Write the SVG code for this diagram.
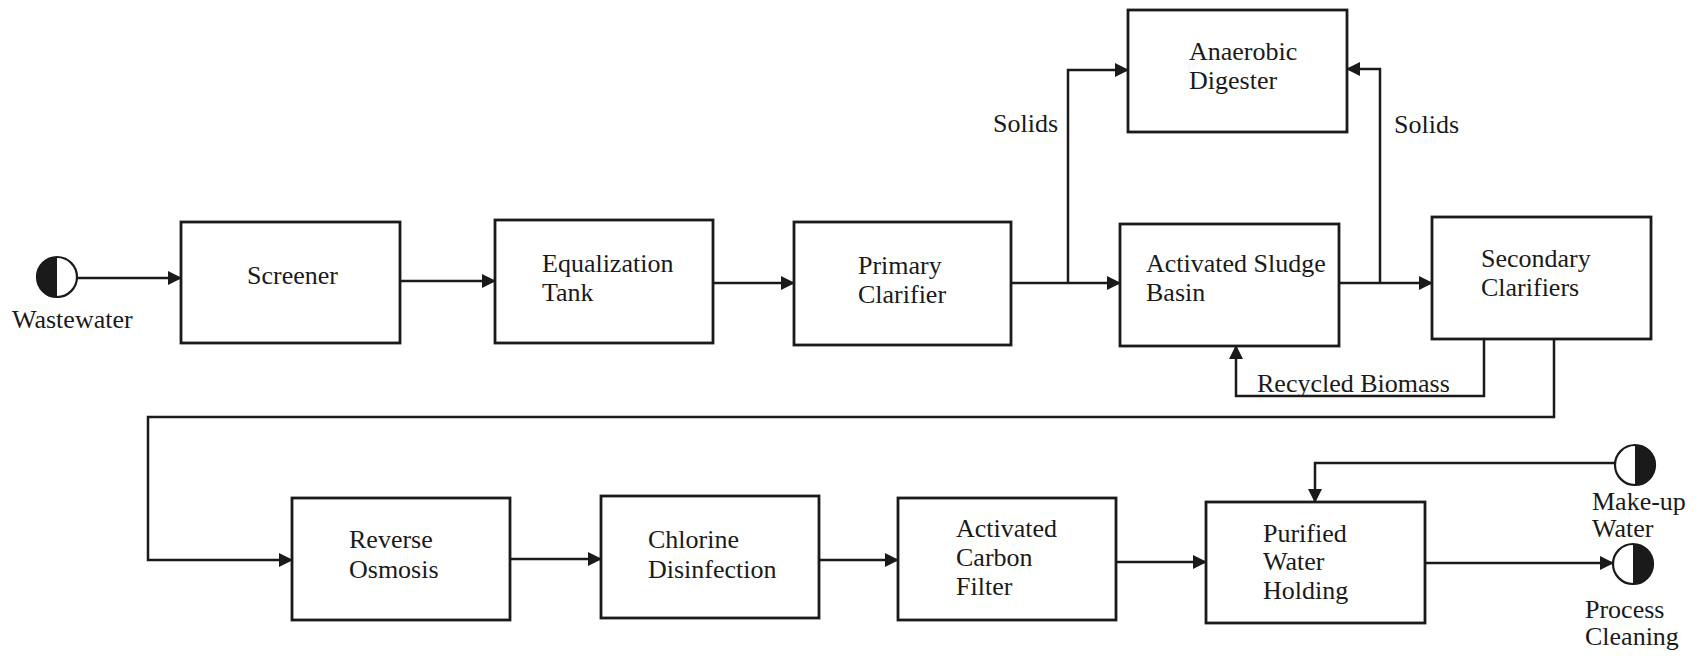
<svg xmlns="http://www.w3.org/2000/svg" width="1700" height="656" viewBox="0 0 1700 656">
<style>
  .box { fill: #ffffff; stroke: #1a1a1a; stroke-width: 2.8; }
  .lbl { font-family: "Liberation Serif", "Times New Roman", serif; font-size: 26px; fill: #1a1a1a; }
  .conn { fill: none; stroke: #1a1a1a; stroke-width: 2.5; }
  .arr { marker-end: url(#ah); }
  .term { fill: #ffffff; stroke: #1a1a1a; stroke-width: 2.2; }
  .half { fill: #1a1a1a; stroke: none; }
</style>
<defs>
  <marker id="ah" markerUnits="userSpaceOnUse" markerWidth="14" markerHeight="14" refX="13" refY="7" orient="auto">
    <path d="M0,0 L14,7 L0,14 Z" fill="#1a1a1a"/>
  </marker>
</defs>
<rect width="1700" height="656" fill="#ffffff"/>

<g id="connectors">
  <path class="conn arr" d="M77,278 L181,278"/>
  <path class="conn arr" d="M400,281 L495,281"/>
  <path class="conn arr" d="M713,283 L794,283"/>
  <path class="conn arr" d="M1011,283 L1120,283"/>
  <path class="conn arr" d="M1068,283 L1068,70 L1128,70"/>
  <path class="conn arr" d="M1339,283 L1432,283"/>
  <path class="conn arr" d="M1380,283 L1380,69 L1347,69"/>
  <path class="conn arr" d="M1484,339 L1484,396 L1236,396 L1236,346"/>
  <path class="conn arr" d="M1554,339 L1554,417 L148,417 L148,560 L292,560"/>
  <path class="conn arr" d="M510,559 L601,559"/>
  <path class="conn arr" d="M819,560 L898,560"/>
  <path class="conn arr" d="M1116,562 L1206,562"/>
  <path class="conn arr" d="M1615,463 L1315,463 L1315,502"/>
  <path class="conn arr" d="M1425,563 L1613,563"/>
</g>

<g id="wastewater">
  <circle class="term" cx="57" cy="277" r="20"/>
  <path class="half" d="M57,257 A20,20 0 0 0 57,297 Z"/>
  <text class="lbl" x="12" y="328">Wastewater</text>
</g>

<g id="screener">
  <rect class="box" x="181" y="222" width="219" height="121"/>
  <text class="lbl" x="247" y="284">Screener</text>
</g>

<g id="equalization-tank">
  <rect class="box" x="495" y="220" width="218" height="123"/>
  <text class="lbl" x="542" y="272">Equalization</text>
  <text class="lbl" x="542" y="301">Tank</text>
</g>

<g id="primary-clarifier">
  <rect class="box" x="794" y="222" width="217" height="123"/>
  <text class="lbl" x="858" y="274">Primary</text>
  <text class="lbl" x="858" y="303">Clarifier</text>
</g>

<g id="anaerobic-digester">
  <rect class="box" x="1128" y="10" width="219" height="122"/>
  <text class="lbl" x="1189" y="60">Anaerobic</text>
  <text class="lbl" x="1189" y="89">Digester</text>
</g>

<g id="activated-sludge-basin">
  <rect class="box" x="1120" y="224" width="219" height="122"/>
  <text class="lbl" x="1146" y="272">Activated Sludge</text>
  <text class="lbl" x="1146" y="301">Basin</text>
</g>

<g id="secondary-clarifiers">
  <rect class="box" x="1432" y="217" width="219" height="122"/>
  <text class="lbl" x="1481" y="267">Secondary</text>
  <text class="lbl" x="1481" y="296">Clarifiers</text>
</g>

<g id="labels">
  <text class="lbl" x="993" y="132">Solids</text>
  <text class="lbl" x="1394" y="133">Solids</text>
  <text class="lbl" x="1257" y="392">Recycled Biomass</text>
</g>

<g id="reverse-osmosis">
  <rect class="box" x="292" y="498" width="218" height="122"/>
  <text class="lbl" x="349" y="548">Reverse</text>
  <text class="lbl" x="349" y="578">Osmosis</text>
</g>

<g id="chlorine-disinfection">
  <rect class="box" x="601" y="496" width="218" height="122"/>
  <text class="lbl" x="648" y="548">Chlorine</text>
  <text class="lbl" x="648" y="578">Disinfection</text>
</g>

<g id="activated-carbon-filter">
  <rect class="box" x="898" y="498" width="218" height="122"/>
  <text class="lbl" x="956" y="537">Activated</text>
  <text class="lbl" x="956" y="566">Carbon</text>
  <text class="lbl" x="956" y="595">Filter</text>
</g>

<g id="purified-water-holding">
  <rect class="box" x="1206" y="502" width="219" height="121"/>
  <text class="lbl" x="1263" y="542">Purified</text>
  <text class="lbl" x="1263" y="570">Water</text>
  <text class="lbl" x="1263" y="599">Holding</text>
</g>

<g id="make-up-water">
  <circle class="term" cx="1635" cy="465" r="20"/>
  <path class="half" d="M1635,445 A20,20 0 0 1 1635,485 Z"/>
  <text class="lbl" x="1592" y="510">Make-up</text>
  <text class="lbl" x="1592" y="537">Water</text>
</g>

<g id="process-cleaning">
  <circle class="term" cx="1633" cy="564" r="20"/>
  <path class="half" d="M1633,544 A20,20 0 0 1 1633,584 Z"/>
  <text class="lbl" x="1585" y="618">Process</text>
  <text class="lbl" x="1585" y="645">Cleaning</text>
</g>
</svg>
